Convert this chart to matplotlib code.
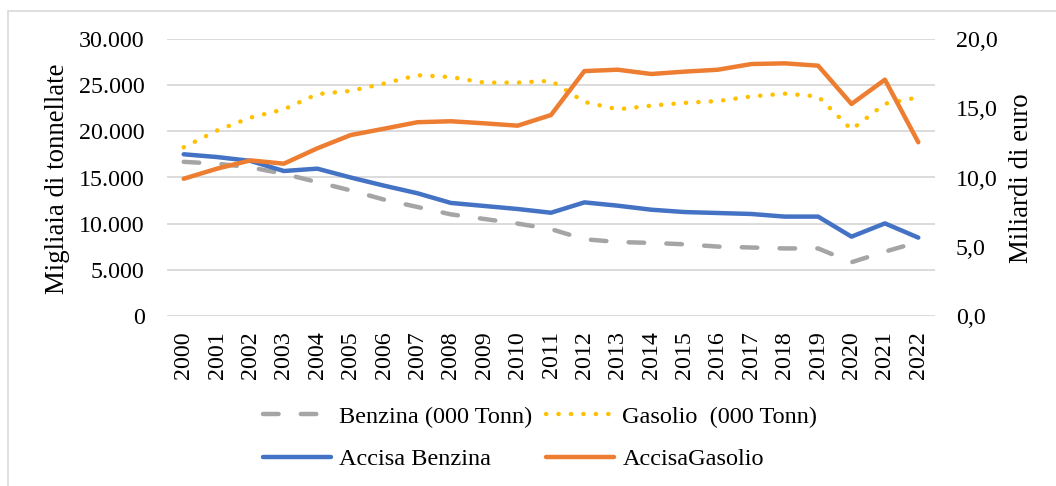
import matplotlib
matplotlib.use("Agg")
import matplotlib.pyplot as plt
from matplotlib.ticker import FuncFormatter
from matplotlib.patches import Rectangle

years = [str(y) for y in range(2000, 2023)]
benzina = [16700, 16500, 16100, 15400, 14500, 13600, 12600, 11800, 11000, 10500,
           10000, 9400, 8300, 8000, 7900, 7750, 7500, 7400, 7300, 7300, 5800, 6950, 8000]
gasolio = [18280, 20100, 21500, 22400, 24050, 24400, 25200, 26100, 25900, 25300,
           25300, 25500, 23200, 22400, 22800, 23100, 23300, 23800, 24100, 23800, 20200, 23000, 23700]
accisa_benzina = [11.68, 11.48, 11.2, 10.47, 10.64, 10.0, 9.41, 8.86, 8.16, 7.94,
                  7.72, 7.45, 8.2, 7.96, 7.67, 7.5, 7.43, 7.36, 7.17, 7.17, 5.72, 6.68, 5.65]
accisa_gasolio = [9.91, 10.64, 11.24, 11.0, 12.11, 13.07, 13.53, 14.0, 14.07, 13.92,
                  13.75, 14.52, 17.7, 17.8, 17.49, 17.66, 17.8, 18.21, 18.26, 18.09, 15.32, 17.08, 12.55]
labels = ["Benzina (000 Tonn)", "Gasolio  (000 Tonn)", "Accisa Benzina", "AccisaGasolio"]

plt.rcParams['font.family'] = ['Liberation Serif', 'DejaVu Serif']
FS = 17.3
FS_TITLE = 19.3
FS_LEG = 17.5

W, H = 1056, 486
fig = plt.figure(figsize=(W / 100, H / 100), dpi=100)
ax = fig.add_axes([167 / W, 1 - 315.7 / H, (935 - 167) / W, (315.7 - 39.3) / H])
ax2 = ax.twinx()

# outer frame
fig.patches.append(Rectangle((8 / W, -0.05), 1.2, 1 - 11 / H + 0.05, transform=fig.transFigure,
                             fill=False, edgecolor='#d9d9d9', lw=1.2))

x = list(range(len(years)))
lw = 3.2
l1, = ax.plot(x, benzina, color='#A5A5A5', lw=lw, dashes=(3.5, 5.0),
              dash_capstyle='round', label=labels[0])
l2, = ax.plot(x, gasolio, color='#FFC000', lw=lw, dashes=(0.05, 2.75),
              dash_capstyle='round', label=labels[1])
l3, = ax2.plot(x, accisa_benzina, color='#4472C4', lw=lw, solid_capstyle='round',
               solid_joinstyle='round', label=labels[2])
l4, = ax2.plot(x, accisa_gasolio, color='#ED7D31', lw=lw, solid_capstyle='round',
               solid_joinstyle='round', label=labels[3])

ax.set_xlim(-0.5, len(years) - 0.5)
ax.set_ylim(0, 30000)
ax2.set_ylim(0, 20)
ax.set_yticks(range(0, 30001, 5000))
ax2.set_yticks([0, 5, 10, 15, 20])
ax.yaxis.set_major_formatter(FuncFormatter(lambda v, p: f"{int(v):,}".replace(",", ".")))
ax2.yaxis.set_major_formatter(FuncFormatter(lambda v, p: f"{v:.1f}".replace(".", ",")))
ax.set_xticks(x)
ax.set_xticklabels(years, rotation=90)

ax.grid(axis='y', color='#d9d9d9', lw=1.3)
ax.set_axisbelow(True)
for a in (ax, ax2):
    for s in a.spines.values():
        s.set_visible(False)
ax.tick_params(axis='y', length=0, pad=16, labelsize=FS)
ax.tick_params(axis='x', length=0, pad=11, labelsize=FS)
ax2.tick_params(axis='y', length=0, pad=15, labelsize=FS)

fig.text(58 / W, 1 - 179 / H, "Migliaia di tonnellate", rotation=90, ha='center', va='center', fontsize=FS_TITLE)
fig.text(1022 / W, 1 - 178 / H, "Miliardi di euro", rotation=90, ha='center', va='center', fontsize=FS_TITLE)

fig.legend([l1, l3, l2, l4], [labels[0], labels[2], labels[1], labels[3]], ncol=2,
           loc='center', bbox_to_anchor=(540 / W, 1 - 438 / H), frameon=False,
           fontsize=FS_LEG, handlelength=2.8, handletextpad=0.33, columnspacing=0.6,
           labelspacing=0.85, borderpad=0)

fig.savefig("out.png", dpi=100)
